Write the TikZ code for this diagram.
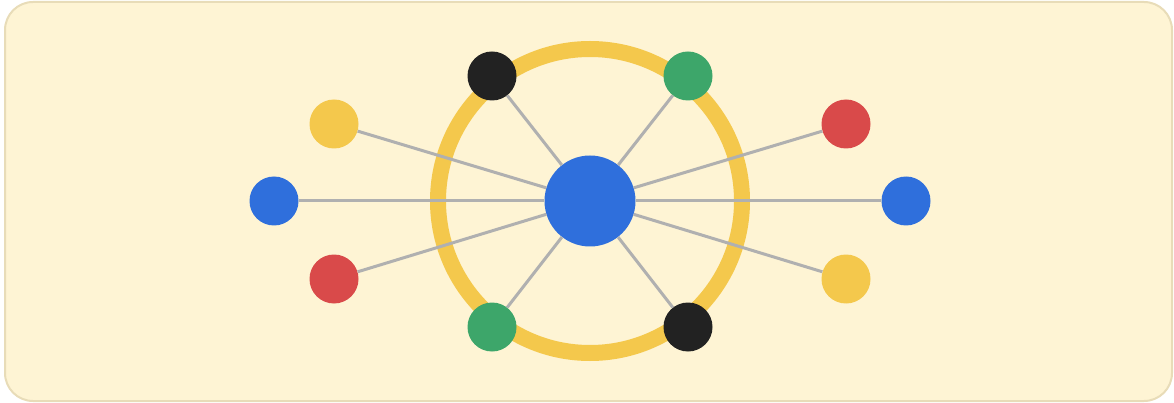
\documentclass[tikz,border=0pt]{standalone}
\begin{document}
\begin{tikzpicture}[
    x=1pt, y=-1pt,
    dot/.style={circle, fill=#1, inner sep=0pt, minimum size=49pt},
    dot/.default={hubblue},
    spoke/.style={draw=spokegray, line width=3pt},
  ]
    \definecolor{panelfill}{HTML}{FEF4D4}
    \definecolor{paneledge}{HTML}{E8DCB8}
    \definecolor{ringyellow}{HTML}{F4C84C}
    \definecolor{spokegray}{HTML}{B0B0B0}
    \definecolor{hubblue}{HTML}{2F6FDC}
    \definecolor{dotgreen}{HTML}{3DA66A}
    \definecolor{dotred}{HTML}{D94A4A}
    \definecolor{dotblack}{HTML}{222222}

    \useasboundingbox (0,0) rectangle (1174,403);

    % Panel
    \draw[fill=panelfill, draw=paneledge, line width=2pt, rounded corners=28pt]
      (5,2) rectangle (1172,401);

    % Ring around the hub
    \draw[ringyellow, line width=16pt] (590,201) circle (152);

    % Hub
    \node[dot, minimum size=91pt] (hub) at (590,201) {};

    % Satellites
    \foreach \name/\col/\px/\py in {
        nA/dotblack/492/76, nB/dotgreen/688/76,
        wA/ringyellow/334/124, eA/dotred/846/124,
        wB/hubblue/274/201, eB/hubblue/906/201,
        wC/dotred/334/279, eC/ringyellow/846/279,
        sA/dotgreen/492/327, sB/dotblack/688/327} {
      \node[dot=\col] (\name) at (\px,\py) {};
    }

    % Spokes
    \foreach \name in {nA,nB,wA,eA,wB,eB,wC,eC,sA,sB} {
      \draw[spoke] (hub) -- (\name);
    }

  \end{tikzpicture}
\end{document}
